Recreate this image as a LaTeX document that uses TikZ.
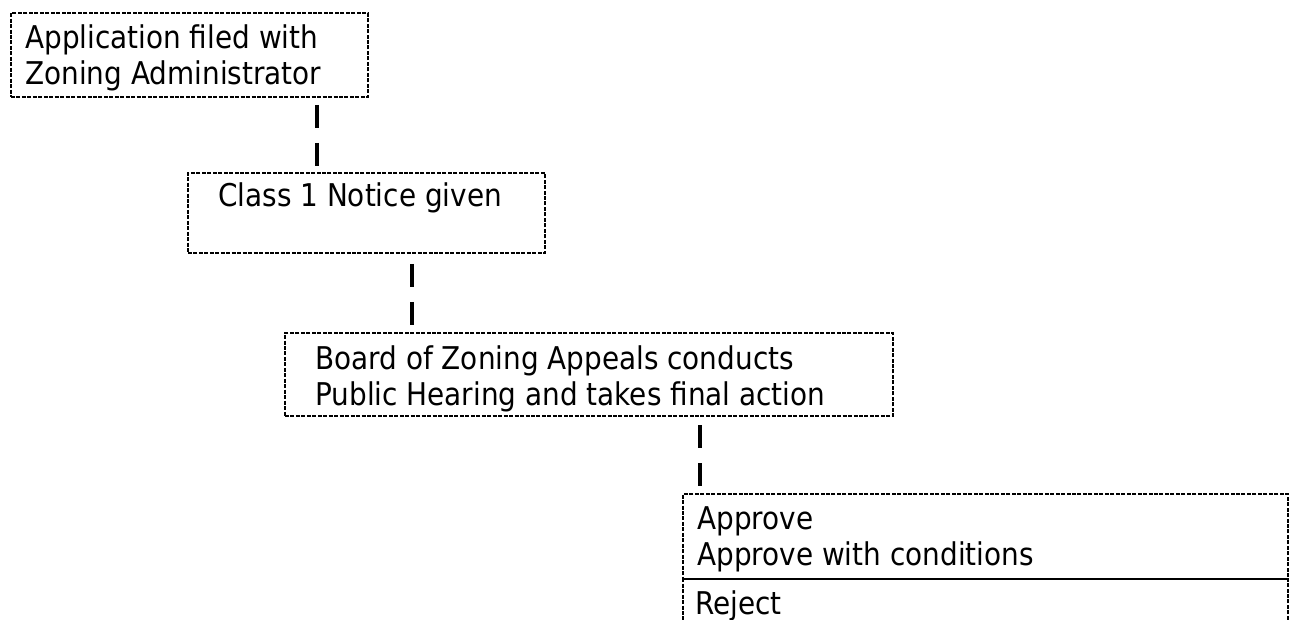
\documentclass[tikz,border=0pt]{standalone}
\usepackage{fontspec}
\setmainfont{DejaVu Sans}[FakeStretch=0.89]
\begin{document}
\begin{tikzpicture}[x=0.75pt,y=-0.75pt,
  box/.style={draw=black, line width=1.5pt, dash pattern=on 3pt off 1.1pt,
    rectangle, inner sep=0pt, anchor=north west},
  txt/.style={anchor=base west, inner sep=0pt, font=\fontsize{23.5pt}{28pt}\selectfont},
  conn/.style={draw=black, line width=3pt, dash pattern=on 17.25pt off 11.25pt}]
\useasboundingbox (0,0) rectangle (1289,620);
\clip (0,0) rectangle (1289,620);
% boxes
\node[box, minimum width=267.75pt, minimum height=63pt] (b1) at (10,12) {};
\node[box, minimum width=267.75pt, minimum height=60pt] (b2) at (187,172) {};
\node[box, minimum width=456pt, minimum height=62.25pt] (b3) at (284,332) {};
\node[box, minimum width=453.75pt, minimum height=63.75pt] (b4) at (682,493) {};
\node[box, minimum width=453.75pt, minimum height=52.5pt] (b5) at (682,578) {};
% texts
\node[txt] (t1a) at (25,49) {Application filed with};
\node[txt] (t1b) at (25,85) {Zoning Administrator};
\node[txt] (t2) at (218,207) {Class 1 Notice given};
\node[txt] (t3a) at (315,369) {Board of Zoning Appeals conducts};
\node[txt] (t3b) at (315,405) {Public Hearing and takes final action};
\node[txt] (t4a) at (697,529) {Approve};
\node[txt] (t4b) at (697,565) {Approve with conditions};
\node[txt] (t5) at (695,614) {Reject};
% connectors
\coordinate (x1) at (317,0);
\coordinate (x2) at (412,0);
\coordinate (x3) at (700,0);
\draw[conn, dash phase=23.25pt] (b1.south -| x1) -- (b2.north -| x1);
\draw[conn, dash phase=21pt] (b2.south -| x2) -- (b3.north -| x2);
\draw[conn, dash phase=22.5pt] (b3.south -| x3) -- (b4.north -| x3);
\end{tikzpicture}
\end{document}
